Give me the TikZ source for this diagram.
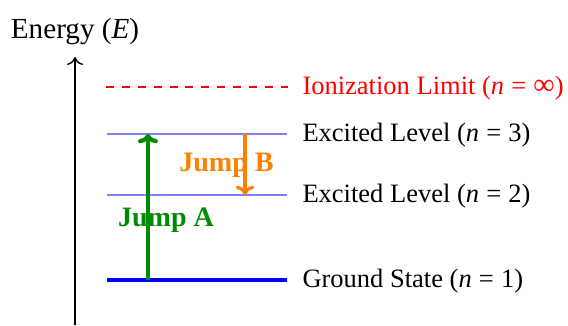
\documentclass[tikz,border=0pt]{standalone}
\usepackage{fontspec}
\setmainfont{Liberation Serif}
\usetikzlibrary{arrows.meta}
\definecolor{jumpgreen}{RGB}{0,140,0}
\definecolor{jumporange}{RGB}{255,128,0}
\newcommand{\eqsp}{\hspace{0.27em}}
\tikzset{
  level/.style={draw=blue!50, line width=0.8pt},
  ground/.style={draw=blue, line width=1.6pt},
  limit/.style={draw=red, dashed, line width=0.5pt},
  lvllabel/.style={anchor=west, inner sep=0pt, font=\fontsize{10}{12}\selectfont},
  jumplabel/.style={inner sep=0pt, font=\fontsize{10.6}{12}\selectfont\bfseries},
}
\begin{document}
\begin{tikzpicture}[x=0.3774pt, y=-0.3774pt]
  \useasboundingbox (0,0) rectangle (568,325);
  % energy axis
  \coordinate (axbot) at (75,325);
  \coordinate (axtop) at (75,57);
  \draw[line width=0.55pt, -{To[length=3pt,width=6pt]}] (axbot) -- (axtop);
  \node[inner sep=0pt, font=\fontsize{11}{13}\selectfont] (axlabel) at (75,31.5) {Energy (\textit{E})};
  % energy levels
  \coordinate (ion-l) at (106,87);   \coordinate (ion-r) at (288,87);
  \coordinate (n3-l) at (107,134);   \coordinate (n3-r) at (287,134);
  \coordinate (n2-l) at (107,195);   \coordinate (n2-r) at (287,195);
  \coordinate (n1-l) at (107,280);   \coordinate (n1-r) at (287,280);
  \draw[limit] (ion-l) -- (ion-r);
  \draw[level] (n3-l) -- (n3-r);
  \draw[level] (n2-l) -- (n2-r);
  \draw[ground] (n1-l) -- (n1-r);
  \node[lvllabel, text=red] (ionlab) at (302,88) {Ionization Limit (\textit{n}\eqsp=\eqsp{\fontsize{11.3}{12}\selectfont ∞})};
  \node[lvllabel] (n3lab) at (302,135.5) {Excited Level (\textit{n}\eqsp=\eqsp3)};
  \node[lvllabel] (n2lab) at (302,196.5) {Excited Level (\textit{n}\eqsp=\eqsp2)};
  \node[lvllabel] (n1lab) at (302,281) {Ground State (\textit{n}\eqsp=\eqsp1)};
  % transitions
  \coordinate (a0) at (148,280); \coordinate (a1) at (148,134);
  \coordinate (b0) at (245,134); \coordinate (b1) at (245,195);
  \draw[jumpgreen, line width=1.6pt, -{To[length=3.5pt,width=7.5pt]}] (a0) -- (a1);
  \draw[jumporange, line width=1.2pt, -{To[length=3.5pt,width=7pt]}] (b0) -- (b1);
  \node[jumplabel, text=jumpgreen] (jumpa) at (166,220) {Jump A};
  \node[jumplabel, text=jumporange] (jumpb) at (226.5,165) {Jump B};
\end{tikzpicture}
\end{document}
